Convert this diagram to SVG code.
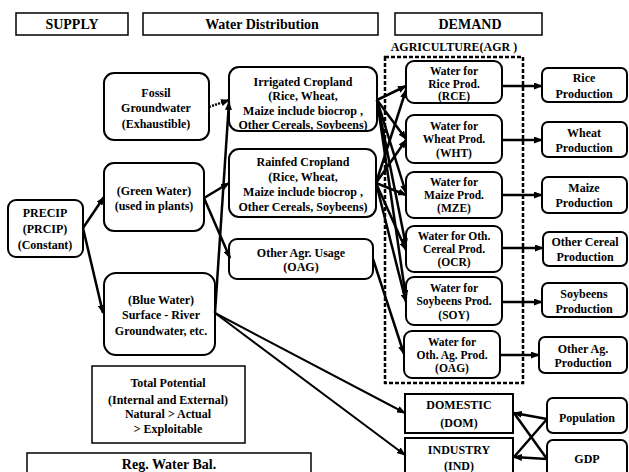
<svg xmlns="http://www.w3.org/2000/svg" width="629" height="472" viewBox="0 0 629 472">
<style>
  .b rect{fill:#fff;stroke:#000;stroke-width:2}
  .h rect{fill:#fff;stroke:#000;stroke-width:1.5}
  text{font-family:"Liberation Serif","Times New Roman",serif;font-weight:bold;font-size:12px;text-anchor:middle;fill:#000}
  .hd{font-size:14px}
  .w text{font-size:11.5px}
  .c line,.c path{stroke:#000;stroke-width:2.5;fill:none}
  .c .thin{stroke-width:2}
  .c .dot{stroke-dasharray:2 1.2}
  .a{marker-end:url(#ah)}
</style>
<defs>
  <marker id="ah" markerUnits="userSpaceOnUse" markerWidth="9" markerHeight="7" refX="8" refY="3.5" orient="auto">
    <path d="M0,0 L9,3.5 L0,7 z" fill="#000"/>
  </marker>
</defs>
<rect width="629" height="472" fill="#fff"/>

<g id="hdr-supply" class="h"><rect x="16" y="13" width="112" height="22"/><text class="hd" x="72" y="29">SUPPLY</text></g>
<g id="hdr-dist" class="h"><rect x="143" y="13" width="235" height="22"/><text class="hd" x="262" y="29">Water Distribution</text></g>
<g id="hdr-demand" class="h"><rect x="395" y="13" width="147" height="22"/><text class="hd" x="470" y="29">DEMAND</text></g>

<g id="agr-group">
  <text x="454" y="51">AGRICULTURE(AGR )</text>
  <rect x="385" y="57" width="138" height="326" fill="none" stroke="#000" stroke-width="2.5" stroke-dasharray="4 2"/>
</g>

<g id="fossil" class="b"><rect x="104" y="73" width="105" height="67" rx="10"/>
  <text x="156" y="97">Fossil</text><text x="156" y="112">Groundwater</text><text x="156" y="128">(Exhaustible)</text></g>
<g id="irrigated" class="b"><rect x="229" y="67" width="148" height="64" rx="10"/>
  <text x="303" y="86">Irrigated Cropland</text><text x="303" y="100">(Rice, Wheat,</text><text x="303" y="115">Maize include biocrop ,</text><text x="303" y="129">Other Cereals, Soybeens)</text></g>
<g id="rainfed" class="b"><rect x="229" y="149" width="147" height="68" rx="10"/>
  <text x="303" y="166">Rainfed Cropland</text><text x="303" y="181">(Rice, Wheat,</text><text x="303" y="196">Maize include biocrop ,</text><text x="303" y="211">Other Cereals, Soybeens)</text></g>
<g id="otheragr" class="b"><rect x="229" y="239" width="144" height="40" rx="8"/>
  <text x="301" y="257">Other Agr. Usage</text><text x="301" y="271">(OAG)</text></g>
<g id="green" class="b"><rect x="104" y="163" width="100" height="68" rx="10"/>
  <text x="154" y="195">(Green Water)</text><text x="154" y="210">(used in plants)</text></g>
<g id="precip" class="b"><rect x="8" y="200" width="75" height="57" rx="8"/>
  <text x="45" y="217">PRECIP</text><text x="45" y="233">(PRCIP)</text><text x="45" y="249">(Constant)</text></g>
<g id="blue" class="b"><rect x="104" y="273" width="111" height="82" rx="12"/>
  <text x="161" y="304">(Blue Water)</text><text x="161" y="319">Surface - River</text><text x="161" y="335">Groundwater,  etc.</text></g>
<g id="total" class="h"><rect x="92" y="366" width="153" height="77"/>
  <text x="168" y="387">Total Potential</text><text x="168" y="404">(Internal and External)</text><text x="168" y="418">Natural &gt; Actual</text><text x="168" y="433">&gt; Exploitable</text></g>
<g id="regbal" class="h"><rect x="27" y="453" width="284" height="30"/>
  <text class="hd" x="169" y="469">Reg. Water Bal.</text></g>

<g id="rce" class="b w"><rect x="406" y="61" width="96" height="42" rx="8"/>
  <text x="454" y="75">Water for</text><text x="454" y="88">Rice Prod.</text><text x="454" y="100">(RCE)</text></g>
<g id="wht" class="b w"><rect x="406" y="115" width="96" height="48" rx="8"/>
  <text x="454" y="130">Water for</text><text x="454" y="143">Wheat Prod.</text><text x="454" y="157">(WHT)</text></g>
<g id="mze" class="b w"><rect x="406" y="172" width="96" height="46" rx="8"/>
  <text x="454" y="186">Water for</text><text x="454" y="199">Maize Prod.</text><text x="454" y="212">(MZE)</text></g>
<g id="ocr" class="b w"><rect x="406" y="226" width="96" height="46" rx="8"/>
  <text x="454" y="240">Water for Oth.</text><text x="454" y="253">Cereal Prod.</text><text x="454" y="266">(OCR)</text></g>
<g id="soy" class="b w"><rect x="406" y="277" width="96" height="48" rx="8"/>
  <text x="454" y="292">Water for</text><text x="454" y="305">Soybeens Prod.</text><text x="454" y="319">(SOY)</text></g>
<g id="oag" class="b w"><rect x="404" y="331" width="96" height="47" rx="8"/>
  <text x="452" y="346">Water for</text><text x="452" y="359">Oth. Ag. Prod.</text><text x="452" y="372">(OAG)</text></g>

<g id="rice" class="b"><rect x="542" y="68" width="85" height="34" rx="6"/>
  <text x="584" y="82">Rice</text><text x="584" y="98">Production</text></g>
<g id="wheat" class="b"><rect x="542" y="122" width="85" height="35" rx="6"/>
  <text x="584" y="137">Wheat</text><text x="584" y="152">Production</text></g>
<g id="maize" class="b"><rect x="542" y="177" width="85" height="36" rx="6"/>
  <text x="584" y="192">Maize</text><text x="584" y="207">Production</text></g>
<g id="ocereal" class="b"><rect x="543" y="232" width="84" height="34" rx="6"/>
  <text x="585" y="246">Other Cereal</text><text x="585" y="261">Production</text></g>
<g id="soybeens" class="b"><rect x="542" y="283" width="85" height="34" rx="6"/>
  <text x="584" y="298">Soybeens</text><text x="584" y="313">Production</text></g>
<g id="otherag" class="b"><rect x="539" y="337" width="88" height="36" rx="6"/>
  <text x="583" y="353">Other Ag.</text><text x="583" y="367">Production</text></g>

<g id="domestic" class="b"><rect x="405" y="394" width="108" height="39"/>
  <text x="459" y="409">DOMESTIC</text><text x="459" y="427">(DOM)</text></g>
<g id="industry" class="b"><rect x="405" y="438" width="108" height="40"/>
  <text x="459" y="454">INDUSTRY</text><text x="459" y="470">(IND)</text></g>
<g id="population" class="b"><rect x="547" y="398" width="80" height="35" rx="6"/>
  <text x="587" y="422">Population</text></g>
<g id="gdp" class="b"><rect x="547" y="440" width="80" height="40" rx="6"/>
  <text x="587" y="463">GDP</text></g>

<g id="connectors" class="c">
  <line class="a" x1="83" y1="228" x2="104" y2="197"/>
  <line class="a" x1="83" y1="228" x2="103" y2="313"/>
  <line class="a dot" x1="209" y1="107" x2="229" y2="100"/>
  <line class="a" x1="204" y1="198" x2="229" y2="183"/>
  <line class="a" x1="204" y1="198" x2="230" y2="258"/>
  <line class="a" x1="215" y1="313" x2="229" y2="102"/>
  <line class="a thin" x1="215" y1="313" x2="405" y2="413"/>
  <line class="a thin" x1="215" y1="313" x2="405" y2="455"/>
  <line class="a" x1="373" y1="259" x2="404" y2="354"/>

  <line class="a" x1="377" y1="100" x2="406" y2="86"/>
  <line class="a" x1="377" y1="100" x2="406" y2="139"/>
  <line class="a" x1="377" y1="100" x2="406" y2="193"/>
  <line class="a" x1="377" y1="100" x2="406" y2="246"/>
  <line class="a" x1="377" y1="100" x2="406" y2="298"/>
  <line class="a" x1="376" y1="183" x2="406" y2="90"/>
  <line class="a" x1="376" y1="183" x2="406" y2="140"/>
  <line class="a" x1="376" y1="183" x2="406" y2="195"/>
  <line class="a" x1="376" y1="183" x2="406" y2="250"/>
  <line class="a" x1="376" y1="183" x2="406" y2="302"/>

  <line class="a" x1="502" y1="86" x2="542" y2="86"/>
  <line class="a" x1="502" y1="140" x2="542" y2="140"/>
  <line class="a" x1="502" y1="195" x2="542" y2="195"/>
  <line class="a" x1="502" y1="248" x2="543" y2="248"/>
  <line class="a" x1="502" y1="302" x2="542" y2="302"/>
  <line class="a" x1="500" y1="355" x2="539" y2="355"/>

  <line class="a" x1="547" y1="419" x2="514" y2="413"/>
  <line x1="547" y1="419" x2="514" y2="457"/>
  <line x1="547" y1="459" x2="514" y2="413"/>
  <line class="a" x1="547" y1="459" x2="514" y2="457"/>
</g>
</svg>
